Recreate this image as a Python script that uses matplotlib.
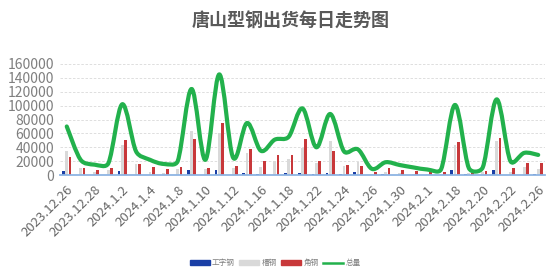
import numpy as np
import matplotlib
matplotlib.use("Agg")
import matplotlib.pyplot as plt
from matplotlib.path import Path
from matplotlib.patches import PathPatch
from matplotlib.lines import Line2D

plt.rcParams['font.family'] = ['Noto Sans CJK SC', 'DejaVu Sans']

# data
dates = ['2023.12.26', '2023.12.27', '2023.12.28', '2023.12.29', '2024.1.2', '2024.1.3',
         '2024.1.4', '2024.1.5', '2024.1.8', '2024.1.9', '2024.1.10', '2024.1.11',
         '2024.1.12', '2024.1.15', '2024.1.16', '2024.1.17', '2024.1.18', '2024.1.19',
         '2024.1.22', '2024.1.23', '2024.1.24', '2024.1.25', '2024.1.26', '2024.1.29',
         '2024.1.30', '2024.1.31', '2024.2.1', '2024.2.2', '2024.2.18', '2024.2.19',
         '2024.2.20', '2024.2.21', '2024.2.22', '2024.2.23', '2024.2.26']
gongzi = [5800, 0, 0, 0, 5800, 0, 0, 0, 0, 6700, 0, 8000, 500, 3400, 1000, 0, 2500, 3400,
          1000, 3000, 1000, 3900, 0, 1500, 0, 0, 0, 0, 8000, 1000, 0, 7000, 0, 0, 1500]
caogang = [35000, 9600, 4800, 7200, 43000, 16000, 4800, 3400, 8500, 63600, 8700, 60000,
           10600, 31300, 12000, 19800, 23600, 39500, 17500, 49000, 13000, 18300, 1500,
           4000, 3000, 1500, 1500, 1500, 43500, 2400, 4500, 49000, 4000, 12000, 9000]
jiaogang = [26500, 10600, 7700, 9600, 50600, 15400, 11800, 9000, 11500, 52500, 10600, 75700,
            13000, 37000, 20000, 28400, 29000, 52000, 20500, 35000, 14200, 13500, 3900,
            10600, 8000, 6000, 4800, 4500, 48000, 3000, 5800, 53000, 10800, 17800, 17200]
total = [70000, 22000, 15000, 17000, 102000, 34000, 22000, 16000, 20000, 124000, 22000,
         145000, 25000, 75000, 35000, 51000, 55000, 96000, 40000, 88000, 34000, 37000,
         9000, 18500, 14500, 11000, 8000, 8500, 101000, 10000, 11000, 109000, 20000,
         32000, 29000]

c_blue = '#1a3fa6'
c_gray = '#d9d9d9'
c_red = '#c8383a'
c_green = '#22b14c'

fig = plt.figure(figsize=(5.54, 2.77), dpi=100)
ax = fig.add_axes([0.108, 0.368, 0.876, 0.401])

x = np.arange(len(dates))
w = 0.2
off = 0.24
ax.bar(x - off, gongzi, w, color=c_blue, zorder=2)
ax.bar(x, caogang, w, color=c_gray, zorder=2)
ax.bar(x + off, jiaogang, w, color=c_red, zorder=2)

ax.set_xlim(-0.5, len(dates) - 0.5)
ax.set_ylim(0, 160000)

# smoothed total line: catmull-rom arms, clamped on short segments (screen space)
sx, sy = 13.85, 110.7 / 160000
p = np.column_stack([x * sx, np.array(total) * sy]).astype(float)
n = len(p)
ext = np.vstack([p[0], p, p[-1]])
verts = [tuple(p[0])]
codes = [Path.MOVETO]
for i in range(n - 1):
    p0, p1, p2, p3 = ext[i], ext[i + 1], ext[i + 2], ext[i + 3]
    L = np.hypot(*(p2 - p1))
    a1 = (p2 - p0) / 6.0
    a2 = (p3 - p1) / 6.0
    lim = 0.4 * L
    if np.hypot(*a1) > lim:
        a1 = a1 * lim / np.hypot(*a1)
    if np.hypot(*a2) > lim:
        a2 = a2 * lim / np.hypot(*a2)
    verts += [tuple(p1 + a1), tuple(p2 - a2), tuple(p2)]
    codes += [Path.CURVE4] * 3
verts = np.array(verts) / [sx, sy]
ax.add_patch(PathPatch(Path(verts, codes), facecolor='none', edgecolor=c_green,
                       lw=3.0, zorder=3, capstyle='round', joinstyle='round'))

ax.set_yticks(np.arange(0, 160001, 20000))
ax.tick_params(axis='y', length=0, labelsize=10, labelcolor='#7f7f7f', pad=4)
ax.yaxis.grid(True, color='#d9d9d9', linestyle=(0, (3, 2)), lw=0.6, zorder=0)
ax.set_xticks(x[::2])
ax.set_xticklabels(dates[::2], rotation=45, ha='right', rotation_mode='anchor',
                   fontsize=9.5, color='#666666')
ax.tick_params(axis='x', length=0, pad=6)
for s in ['top', 'right', 'left']:
    ax.spines[s].set_visible(False)
ax.spines['bottom'].set_color('#8eb4e3')
ax.spines['bottom'].set_linewidth(1.3)
ax.spines['bottom'].set_zorder(4)

fig.text(0.525, 0.922, '唐山型钢出货每日走势图', ha='center', va='center',
         fontsize=13, fontweight='bold', color='#595959')

handles = [plt.Rectangle((0, 0), 1, 1, color=c_blue),
           plt.Rectangle((0, 0), 1, 1, color=c_gray),
           plt.Rectangle((0, 0), 1, 1, color=c_red),
           Line2D([0], [0], color=c_green, lw=1.8)]
fig.legend(handles, ['工字钢', '槽钢', '角钢', '总量'], loc='center',
           bbox_to_anchor=(0.497, 0.05), ncol=4, frameon=False, fontsize=5.5,
           labelcolor='#7f7f7f', handlelength=2.6, handleheight=0.5,
           handletextpad=0.3, columnspacing=0.6)

fig.savefig('out.png', dpi=100)
